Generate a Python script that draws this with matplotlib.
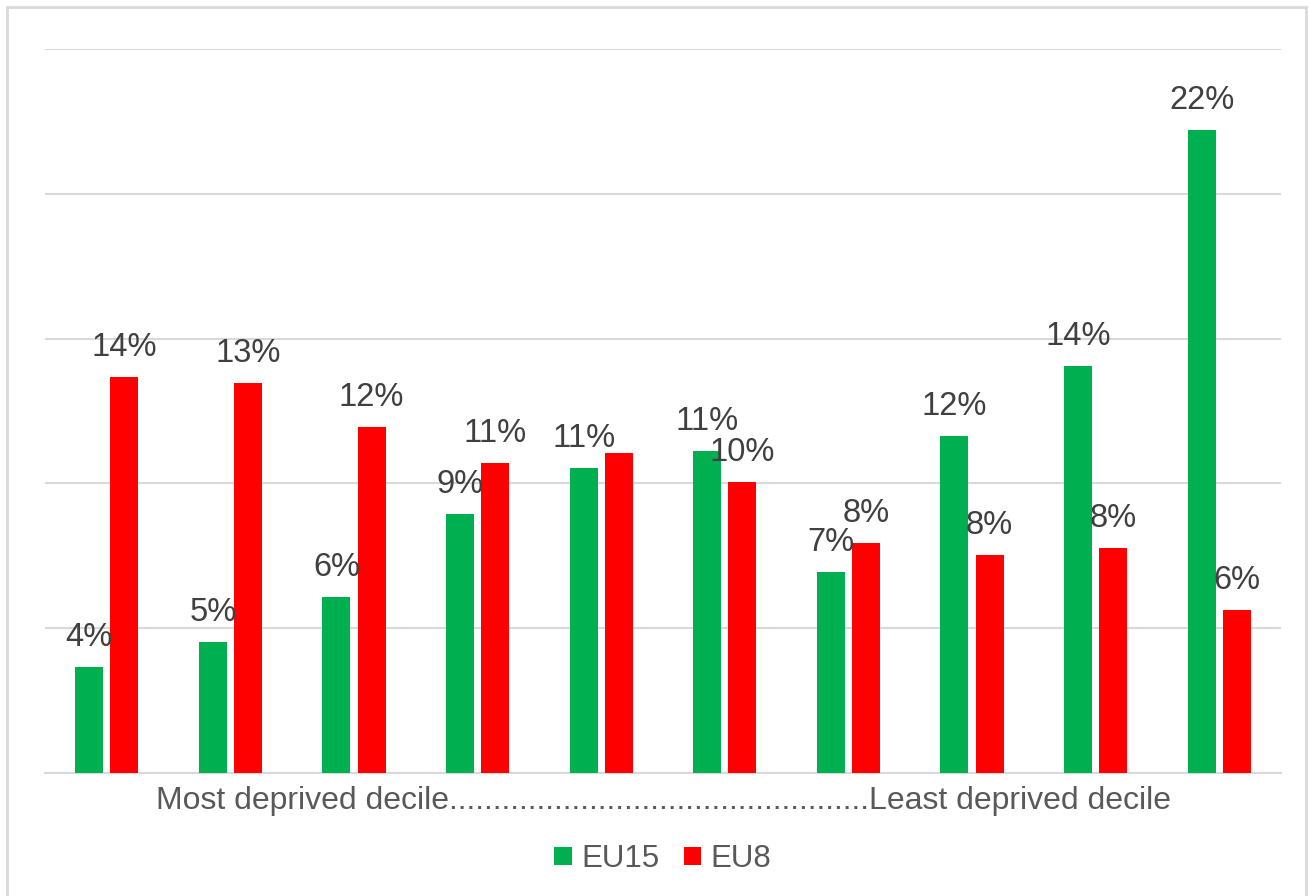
import matplotlib.pyplot as plt
import numpy as np
from matplotlib.patches import Rectangle

plt.rcParams['font.family'] = ['Liberation Sans', 'DejaVu Sans']

deciles = list(range(1, 11))
eu15 = [3.66, 4.52, 6.08, 8.94, 10.53, 11.12, 6.94, 11.64, 14.05, 22.2]
eu8 = [13.67, 13.47, 11.95, 10.70, 11.05, 10.05, 7.94, 7.53, 7.77, 5.63]
# the EU8 label of decile 5 is not shown in the original chart
eu8_hidden = [5]
series_names = ["EU15", "EU8"]
axis_label = "Most deprived decile" + "." * 48 + "Least deprived decile"

green = "#00b050"
red = "#ff0000"
grid_col = "#d9d9d9"
text_col = "#404040"

fig = plt.figure(figsize=(13.09, 8.96), dpi=100)
ax = fig.add_axes([45 / 1309, 1 - 773 / 896, (1281 - 45) / 1309, (773 - 49) / 896])

x = np.arange(len(deciles))
w = 0.227
off = 0.142
b1 = ax.bar(x - off, eu15, w, color=green, label=series_names[0], zorder=3)
b2 = ax.bar(x + off, eu8, w, color=red, label=series_names[1], zorder=3)

for bars, vals, hidden in ((b1, eu15, []), (b2, eu8, eu8_hidden)):
    for d, rect, v in zip(deciles, bars, vals):
        if d in hidden:
            continue
        ax.annotate(f"{v:.0f}%", (rect.get_x() + rect.get_width() / 2, v),
                    xytext=(0, 10), textcoords="offset points",
                    ha="center", va="bottom", fontsize=23.5, color=text_col)

ax.set_xlim(-0.5, 9.5)
ax.set_ylim(0, 25)
ax.set_yticks([0, 5, 10, 15, 20, 25])
ax.yaxis.grid(True, color=grid_col, linewidth=1.5, zorder=0)
ax.tick_params(axis="y", length=0, labelleft=False)
ax.set_xticks([4.5])
ax.set_xticklabels([axis_label], fontsize=23, color="#595959")
ax.tick_params(axis="x", length=0, pad=9)
for s in ["top", "right", "left"]:
    ax.spines[s].set_visible(False)
ax.spines["bottom"].set_color(grid_col)
ax.spines["bottom"].set_linewidth(1.5)

leg = fig.legend(loc="center", bbox_to_anchor=(663 / 1309, 1 - 859 / 896), ncol=2,
                 frameon=False, fontsize=22.5, handlelength=0.55, handleheight=0.55,
                 handletextpad=0.3, columnspacing=0.8)
for t in leg.get_texts():
    t.set_color("#595959")

fig.patches.append(Rectangle((7 / 1309, -0.01), 1299 / 1309, 1 - 7 / 896 + 0.01,
                             transform=fig.transFigure, fill=False,
                             edgecolor=grid_col, linewidth=2))

fig.savefig("out.png", dpi=100)
